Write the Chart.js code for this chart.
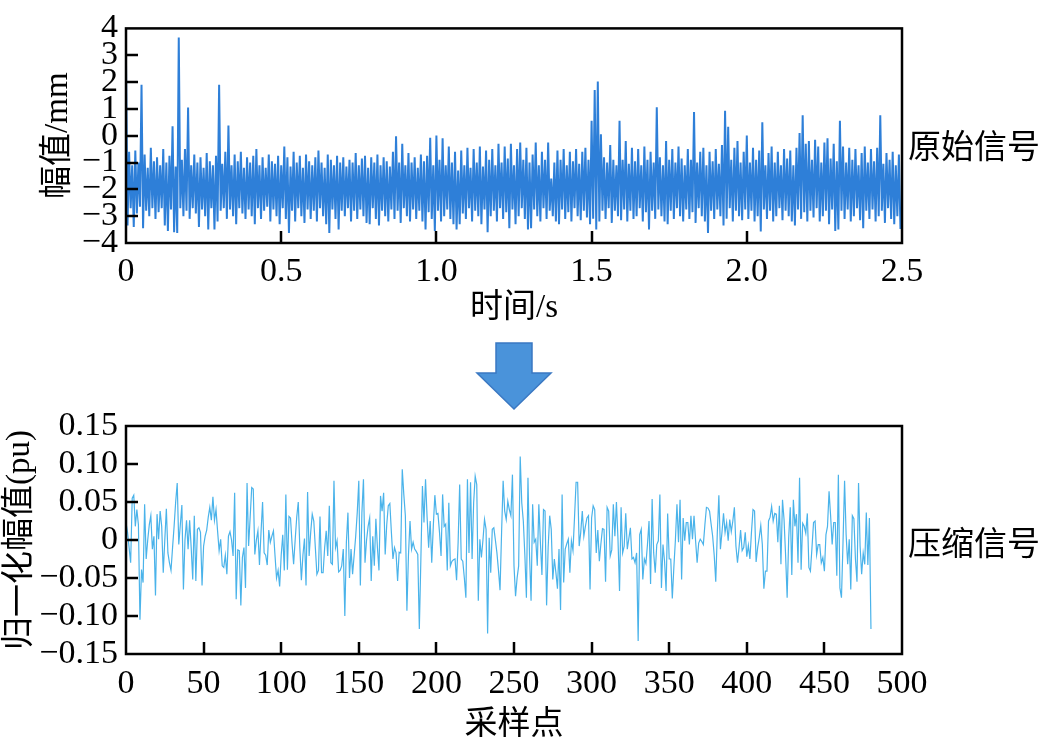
<!DOCTYPE html>
<html>
<head>
<meta charset="utf-8">
<title>原始信号 / 压缩信号</title>
<script src="https://cdn.jsdelivr.net/npm/chart.js"></script>
<style>
  html,body{margin:0;padding:0;background:#fff;}
  #wrap{position:relative;width:1043px;height:742px;overflow:hidden;background:#fff;}
  canvas{position:absolute;left:0;}
  #c1{top:0;}
  #c2{top:330px;}
  .side{position:absolute;left:908px;font-family:"Noto Sans CJK SC",sans-serif;font-size:33px;line-height:33px;color:#000;white-space:nowrap;}
  #arrow{position:absolute;left:470px;top:338px;}
</style>
</head>
<body>
<div id="wrap">
  <canvas id="c1" width="1043" height="330"></canvas>
  <canvas id="c2" width="1043" height="412"></canvas>
  <svg id="arrow" width="90" height="80" viewBox="470 338 90 80">
    <polygon points="496,343 532,343 532,373 551,373 514,409 477,373 496,373" fill="#4a93da" stroke="#3a78c2" stroke-width="1.5"/>
  </svg>
  <div class="side" style="top:128px">原始信号</div>
  <div class="side" style="top:525px">压缩信号</div>
</div>
<script>
// Original vs compressed signal - two Chart.js line charts stacked
const $ = (sel)=>document.querySelector(sel);
const FONT = "'Liberation Serif', 'Times New Roman', 'Noto Sans CJK SC', serif";
const MINUS = '\u2212';

// top panel: raw signal, sampled every TOP_STEP s; peaks (hi) and troughs (lo) alternate
const TOP_STEP = 0.005;
const topHi = [
  2.75, -0.6, -1.1, -0.55, -1.0, 1.9, -0.7, -1.2, -0.45, -0.95,
  -0.8, -1.1, -0.5, -1.0, -0.75, 0.35, -1.15, 3.66, -0.9, -0.5,
  1.05, -1.1, -0.7, -1.0, -0.8, -1.2, -0.65, -0.95, -1.1, -0.75,
  1.9, -1.05, -0.6, 0.38, -1.1, -0.7, -0.95, -0.6, -1.2, -0.8,
  -1.0, -0.75, -0.5, -1.1, -0.8, -1.2, -0.7, -0.95, -1.05, -0.75,
  -1.1, -0.4, -0.8, -1.15, -0.6, -1.0, -0.75, -1.2, -0.7, -0.95,
  -1.1, -0.8, -0.55, -1.0, -1.2, -0.7, -0.9, -1.1, -0.75, -1.0,
  -0.8, -1.15, -0.9, -1.0, -0.65, -1.1, -0.85, -0.75, -1.2, -0.8,
  -1.0, -0.7, -1.1, -0.8, -0.95, -1.15, -0.6, -0.02, -1.0, -0.3,
  -1.1, -0.65, -1.0, -0.8, -1.2, -0.7, -0.95, -0.75, -0.08, -1.1,
  0.01, -0.9, -0.1, -1.1, -0.4, -1.0, -0.6, -1.3, -0.55, -1.1,
  -0.45, -1.2, -0.5, -1.0, -0.4, -1.15, -0.55, -0.9, -0.5, -1.1,
  -0.3, -1.0, -0.4, -0.85, -0.3, -1.1, -0.5, -0.25, -0.9, -0.45,
  -1.0, -0.7, -0.25, -1.1, -0.6, -0.9, -0.25, -1.6, -1.0, -0.55,
  -0.9, -0.5, -1.1, -0.6, -0.95, -0.5, -1.05, -0.6, -0.45, -0.9,
  0.56, 1.7, 2.02, 0.05, -0.8, -1.0, -0.35, -0.9, -1.1, 0.56,
  -0.9, -0.2, -1.05, -0.45, -0.95, -0.5, -1.1, -0.4, -0.9, -0.6,
  -1.0, 1.06, -0.8, -1.1, -0.2, -0.9, -0.5, -1.0, -0.4, -0.85,
  -1.1, -0.5, -0.9, 0.88, -1.0, -0.6, -0.45, -1.1, -0.6, -0.95,
  -0.5, -1.05, -0.35, 0.93, 0.33, -0.9, -0.45, -0.2, -1.0, -0.6,
  0.01, -1.0, -0.45, -0.9, -0.55, 0.5, -1.1, -0.65, -0.4, -1.0,
  -0.6, -1.1, -0.5, -0.85, -0.55, -1.1, -0.45, 0.1, 0.76, -0.3,
  -0.2, -0.9, -0.15, -0.4, -1.0, -0.25, -0.1, -0.85, -0.3, -0.95,
  0.56, -0.4, -1.0, -0.45, -0.9, -0.5, -1.1, -0.65, -0.4, -1.0,
  -0.5, -0.95, -0.45, 0.76, -1.05, -0.65, -0.9, -0.6, -1.1, -0.7
];
const topLo = [
  -3.35, -2.7, -3.4, -2.9, -2.65, -3.45, -2.8, -3.0, -2.7, -3.1,
  -2.85, -2.7, -3.35, -3.55, -2.75, -3.6, -3.63, -2.7, -3.0, -2.8,
  -3.1, -2.7, -2.9, -3.4, -2.75, -3.0, -3.5, -2.7, -3.5, -3.2,
  -2.8, -2.7, -3.1, -2.75, -3.0, -3.3, -2.7, -2.9, -3.1, -2.75,
  -3.0, -3.3, -2.7, -3.1, -2.8, -2.65, -3.2, -2.75, -3.0, -3.3,
  -2.7, -3.1, -3.63, -2.8, -3.2, -2.7, -3.0, -3.25, -2.75, -3.1,
  -2.8, -3.2, -2.7, -3.0, -3.3, -3.63, -2.75, -3.1, -3.5, -2.8,
  -3.0, -2.7, -3.2, -2.8, -3.1, -2.75, -3.0, -3.25, -3.3, -2.7,
  -3.1, -3.35, -2.8, -3.0, -3.2, -2.75, -3.1, -2.8, -3.25, -2.7,
  -3.0, -3.2, -2.75, -3.1, -2.8, -3.2, -3.5, -2.85, -3.1, -3.55,
  -2.8, -3.2, -3.0, -2.75, -3.1, -3.3, -3.5, -3.3, -2.9, -3.1,
  -2.7, -3.2, -2.8, -3.0, -3.3, -2.75, -3.6, -3.0, -2.8, -3.2,
  -2.7, -3.1, -2.85, -3.45, -2.75, -3.3, -3.0, -2.7, -3.1, -3.5,
  -3.45, -2.75, -3.0, -3.2, -2.7, -3.1, -2.8, -3.0, -3.2, -3.3,
  -2.75, -3.1, -2.85, -3.2, -2.7, -3.0, -3.15, -2.8, -3.05, -3.3,
  -3.1, -3.5, -3.2, -2.8, -3.1, -2.7, -3.25, -2.8, -3.0, -3.15,
  -2.75, -3.2, -2.8, -3.1, -3.0, -2.7, -3.2, -2.85, -3.5, -2.8,
  -3.1, -2.75, -3.0, -3.2, -3.3, -2.8, -3.1, -2.7, -3.0, -3.2,
  -2.75, -3.1, -2.85, -3.25, -2.7, -3.0, -3.2, -3.63, -2.8, -3.1,
  -2.75, -3.0, -3.35, -3.1, -2.7, -3.2, -2.8, -3.0, -3.15, -2.75,
  -3.1, -2.8, -3.2, -3.0, -3.57, -2.75, -3.1, -2.8, -3.2, -3.0,
  -2.7, -3.15, -2.8, -3.0, -3.2, -3.35, -2.75, -3.1, -2.85, -3.2,
  -2.8, -3.05, -2.7, -3.2, -3.0, -2.8, -3.3, -2.75, -3.55, -3.5,
  -2.8, -3.1, -2.75, -3.2, -3.0, -2.7, -3.15, -3.45, -2.8, -3.1,
  -2.75, -3.2, -3.0, -2.8, -3.25, -2.7, -3.1, -3.3, -3.0, -3.48
];
const topXTicks = [0, 0.5, 1.0, 1.5, 2.0, 2.5];
const topYTicks = [-4, -3, -2, -1, 0, 1, 2, 3, 4];

// bottom panel: compressed signal, one value per sample point
const compressed = [
  0.023, 0.01, -0.01, -0.03, 0.055, 0.059, 0.018, 0.04, 0.02, -0.105, -0.039, -0.056, 0.047, -0.025, 0.0, 0.02, 0.032, -0.012, 0.005, -0.073,
  0.034, 0.001, 0.038, 0.018, -0.043, 0.0, 0.041, -0.017, -0.03, -0.04, -0.01, 0.018, 0.05, 0.075, -0.006, 0.02, 0.046, -0.065, 0.0, 0.026,
  -0.012, 0.026, -0.01, -0.052, 0.032, -0.054, 0.014, 0.016, 0.01, -0.06, -0.008, 0.005, 0.013, 0.03, 0.043, 0.026, 0.057, 0.026, 0.04, 0.012,
  -0.014, 0.001, -0.034, -0.036, -0.02, -0.045, 0.005, 0.011, 0.0, -0.021, 0.062, -0.078, -0.013, -0.014, -0.086, -0.023, -0.01, -0.063, 0.075, -0.008,
  0.03, 0.069, 0.067, -0.019, 0.0, 0.012, -0.033, 0.01, 0.05, -0.017, -0.02, -0.033, 0.013, -0.003, 0.005, 0.012, -0.02, -0.05, -0.04, -0.061,
  -0.02, 0.007, -0.04, 0.06, -0.039, 0.031, 0.029, -0.005, -0.032, 0.0, 0.03, 0.05, -0.01, -0.053, -0.02, 0.002, -0.06, 0.063, -0.021, 0.01,
  0.034, 0.025, -0.01, -0.045, -0.04, 0.031, -0.043, -0.043, -0.01, 0.012, -0.021, 0.045, -0.03, -0.032, 0.078, -0.01, -0.001, -0.042, -0.04, -0.034,
  -0.012, -0.1, -0.003, 0.036, -0.05, -0.012, -0.045, -0.02, 0.005, 0.036, 0.078, -0.06, 0.036, 0.08, -0.03, 0.0, 0.018, 0.029, -0.054, 0.005,
  -0.034, 0.028, -0.01, -0.04, 0.058, 0.038, 0.062, -0.019, 0.02, 0.045, 0.048, 0.01, -0.025, -0.01, -0.017, -0.054, -0.016, -0.017, 0.093, 0.06,
  0.032, -0.093, -0.02, 0.025, -0.012, -0.003, -0.012, -0.015, -0.019, -0.117, -0.025, 0.071, 0.023, 0.08, 0.03, -0.01, 0.025, -0.03, 0.018, 0.059,
  0.034, 0.035, 0.01, -0.021, 0.06, 0.018, 0.021, -0.04, 0.049, -0.034, -0.028, -0.026, -0.025, -0.053, -0.003, 0.073, -0.025, -0.028, -0.05, -0.076,
  0.08, -0.017, 0.076, -0.025, 0.049, 0.084, 0.073, -0.08, 0.001, -0.023, 0.0, 0.027, 0.014, -0.123, 0.003, -0.043, 0.014, 0.016, 0.0, -0.017,
  -0.04, -0.066, 0.01, 0.078, 0.038, 0.027, 0.051, 0.04, 0.032, 0.086, -0.034, -0.074, -0.05, -0.034, 0.11, 0.049, 0.025, -0.02, -0.076, 0.082,
  -0.02, -0.08, 0.047, -0.003, 0.001, -0.034, 0.047, -0.003, -0.046, 0.04, 0.038, -0.086, -0.01, 0.032, 0.014, -0.052, -0.025, -0.043, -0.064, -0.012,
  -0.092, 0.06, -0.056, -0.012, -0.005, 0.001, -0.043, -0.001, -0.014, 0.03, 0.076, 0.076, -0.008, 0.01, 0.038, 0.005, 0.018, 0.029, 0.032, -0.065,
  0.029, 0.045, 0.04, -0.017, 0.013, -0.028, -0.005, 0.015, 0.014, -0.055, 0.043, 0.038, -0.021, -0.013, 0.047, 0.005, 0.05, 0.001, -0.067, 0.043,
  -0.017, -0.008, 0.035, -0.012, 0.002, 0.016, -0.025, -0.023, -0.03, -0.017, -0.133, 0.007, 0.014, -0.052, -0.025, -0.031, -0.006, 0.025, -0.058, 0.054,
  -0.017, -0.043, -0.006, -0.001, 0.06, -0.063, -0.006, -0.028, -0.067, 0.035, -0.025, -0.025, -0.077, -0.036, 0.0, 0.047, -0.003, 0.053, -0.052, 0.029,
  -0.001, 0.023, 0.023, -0.006, 0.032, 0.001, 0.032, -0.001, -0.03, -0.004, 0.001, -0.002, -0.006, 0.02, 0.043, 0.042, 0.038, 0.021, 0.005, -0.02,
  -0.055, 0.01, 0.059, -0.012, 0.01, 0.035, 0.01, 0.023, -0.001, 0.027, 0.011, 0.025, 0.043, -0.008, -0.03, -0.01, 0.013, -0.014, -0.01, 0.01,
  -0.022, -0.007, -0.025, 0.01, 0.04, 0.038, -0.029, -0.01, 0.003, 0.019, -0.006, -0.064, -0.041, -0.041, 0.025, 0.03, 0.044, 0.025, 0.035, 0.034,
  -0.003, 0.045, -0.032, 0.053, 0.027, -0.02, -0.076, 0.003, 0.043, -0.046, 0.053, 0.018, 0.034, -0.03, 0.082, -0.039, 0.022, 0.018, 0.009, 0.035,
  -0.036, -0.041, -0.01, 0.023, 0.025, -0.019, -0.006, -0.006, -0.03, -0.023, -0.041, 0.007, 0.018, 0.064, 0.032, -0.006, 0.023, 0.023, -0.047, 0.086,
  -0.063, -0.076, -0.003, 0.078, 0.007, -0.032, 0.001, -0.065, 0.032, 0.028, -0.025, -0.055, 0.075, -0.008, -0.045, -0.017, -0.032, 0.036, -0.033, 0.029,
  -0.117
];
const botXTicks = [0, 50, 100, 150, 200, 250, 300, 350, 400, 450, 500];
const botYTicks = [-0.15, -0.1, -0.05, 0, 0.05, 0.1, 0.15];

function fmt(v, digits){
  if (v === 0) return '0';
  return (v < 0 ? MINUS : '') + Math.abs(v).toFixed(digits);
}

function topPoints(){
  const pts = [];
  topHi.forEach((h, k)=>{
    pts.push({x: 2*k*TOP_STEP, y: h});
    pts.push({x: (2*k+1)*TOP_STEP, y: topLo[k]});
  });
  return pts;
}

// box round the plot and inward tick marks on bottom/left
const frame = {
  id: 'frame',
  afterDraw(chart){
    const {ctx, chartArea: a, scales: {x, y}} = chart;
    ctx.save();
    ctx.strokeStyle = '#000';
    ctx.lineWidth = 2.5;
    ctx.beginPath();
    x.ticks.forEach(t=>{
      if (t.value <= x.min || t.value >= x.max) return;
      const px = Math.round(x.getPixelForValue(t.value));
      ctx.moveTo(px, a.bottom); ctx.lineTo(px, a.bottom - 12);
    });
    y.ticks.forEach(t=>{
      if (t.value <= y.min || t.value >= y.max) return;
      const py = Math.round(y.getPixelForValue(t.value));
      ctx.moveTo(a.left, py); ctx.lineTo(a.left + 12, py);
    });
    ctx.stroke();
    ctx.strokeRect(a.left, a.top, a.right - a.left, a.bottom - a.top);
    ctx.restore();
  }
};

function axis(o){
  return {
    type: 'linear', min: o.min, max: o.max,
    grid: { display: false, drawTicks: false },
    border: { display: false },
    afterBuildTicks: s=>{ s.ticks = o.ticks.map(v=>({value: v})); },
    afterFit: s=>{ if (o.width) s.width = o.width; if (o.height) s.height = o.height; },
    ticks: {
      autoSkip: false, maxRotation: 0, padding: o.pad, color: '#000',
      font: { family: FONT, size: 34 },
      callback: v=>fmt(v, o.digits(v))
    },
    title: {
      display: true, text: o.title, color: '#000',
      font: { family: FONT, size: 33, lineHeight: 1 },
      padding: o.titlePad
    }
  };
}

function makeChart(el, data, color, width, padTop, xo, yo){
  return new Chart(el, {
    type: 'line',
    data: { datasets: [{ data, borderColor: color, borderWidth: width, pointRadius: 0, tension: 0, fill: false }] },
    options: {
      responsive: false, animation: false, devicePixelRatio: 1, parsing: false,
      layout: { padding: { left: 0, top: padTop, right: 141, bottom: 0 } },
      plugins: { legend: { display: false }, tooltip: { enabled: false } },
      scales: { x: axis(xo), y: axis(yo) }
    },
    plugins: [frame]
  });
}

makeChart($('#c1'), topPoints(), '#2e7fd8', 2, 13,
  { min: 0, max: 2.5, ticks: topXTicks, digits: v=>1, pad: 9, height: 87, title: '时间/s', titlePad: {top: 0, bottom: 5} },
  { min: -4, max: 4, ticks: topYTicks, digits: v=>0, pad: 8, width: 126, title: '幅值/mm', titlePad: {top: 42, bottom: 0} });

makeChart($('#c2'), compressed.map((v, i)=>({x: i, y: v})), '#4ab3ea', 1.2, 96,
  { min: 0, max: 500, ticks: botXTicks, digits: v=>0, pad: 10, height: 88, title: '采样点', titlePad: {top: 0, bottom: 0} },
  { min: -0.15, max: 0.15, ticks: botYTicks, digits: v=>2, pad: 8, width: 126, title: '归一化幅值(pu)', titlePad: {top: 4, bottom: 0} });
</script>
</body>
</html>
